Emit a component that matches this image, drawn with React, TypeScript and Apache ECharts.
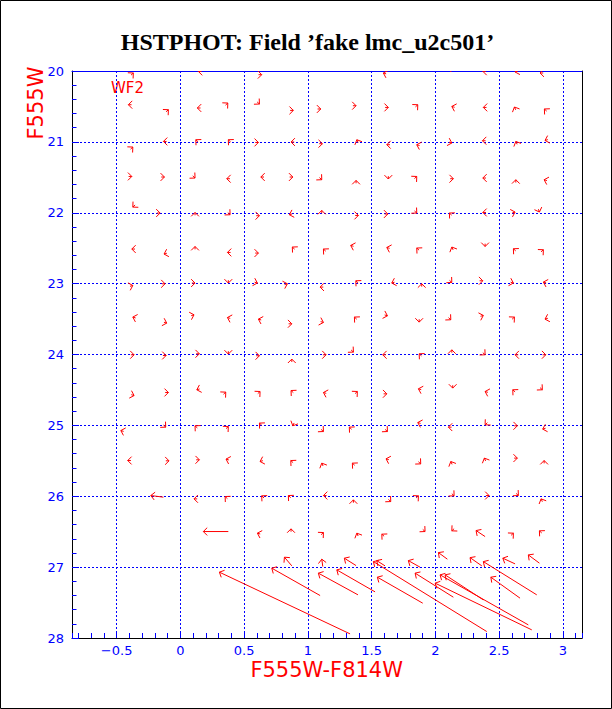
import React, { useEffect, useRef } from "react";
import * as echarts from "echarts";

// Each entry: [colour (measured), F555W (measured), dColour, dMag]  (arrow tail = measured - delta)
const row20: number[][] = [
  [-0.369, 20.028, 0.018, -0.03], [0.141, 20.006, -0.025, 0], [0.638, 20.052, 0.025, 0],
  [1.592, 20.028, -0.022, -0.012], [2.121, 20.006, 0, 0.04], [2.372, 20.004, -0.025, 0],
  [2.625, 20.014, -0.022, 0.012], [2.821, 20.028, -0.025, 0],
];
const row20h: number[][] = [
  [-0.408, 20.476, -0.025, 0], [-0.094, 20.546, 0.018, -0.03], [0.133, 20.522, -0.025, 0],
  [0.372, 20.452, 0.018, -0.03], [0.62, 20.466, 0.018, 0.03], [0.886, 20.556, 0.025, 0],
  [1.101, 20.536, 0.025, 0], [1.378, 20.49, 0.025, 0], [1.631, 20.514, 0.025, 0],
  [1.862, 20.476, 0.018, -0.03], [2.129, 20.5, -0.022, -0.012], [2.376, 20.514, -0.025, 0],
  [2.62, 20.508, -0.01, -0.04], [2.855, 20.536, -0.018, -0.03],
];
const row21: number[][] = [
  [-0.373, 21.073, 0.018, -0.03], [-0.133, 20.994, -0.025, 0], [0.121, 20.97, -0.018, -0.03],
  [0.376, 20.97, -0.018, -0.03], [0.612, 21.008, 0.025, 0], [0.868, 21.002, -0.025, 0],
  [1.114, 21.026, 0.025, 0], [1.384, 20.97, -0.01, -0.04], [1.619, 21.04, -0.025, 0],
  [1.854, 21.04, -0.022, -0.012], [2.129, 21.016, 0.022, 0.012], [2.369, 20.984, -0.025, 0],
  [2.631, 20.994, -0.01, -0.04], [2.86, 20.98, -0.022, 0.012],
];
const row21h: number[][] = [
  [-0.381, 21.488, 0.025, 0], [-0.125, 21.496, 0.025, 0], [0.115, 21.51, 0.018, 0.03],
  [0.364, 21.52, -0.025, 0], [0.631, 21.496, -0.025, 0], [0.882, 21.496, 0.025, 0],
  [1.109, 21.534, 0.018, 0.03], [1.378, 21.544, 0, -0.04], [1.631, 21.524, 0, 0.04],
  [1.854, 21.488, 0.018, -0.03], [2.141, 21.52, 0.025, 0], [2.372, 21.51, -0.025, 0],
  [2.631, 21.534, 0, -0.04], [2.853, 21.534, -0.022, -0.012],
];
const row22: number[][] = [
  [-0.373, 21.92, -0.018, 0.03], [-0.159, 22.004, 0.025, 0], [0.115, 21.996, 0, -0.04],
  [0.39, 22.028, 0.018, 0.03], [0.62, 22.042, 0.025, 0], [0.855, 22.028, -0.022, 0.012],
  [1.109, 21.967, 0, -0.04], [1.396, 22.038, 0.025, 0], [1.627, 22.018, 0.025, 0],
  [1.854, 22.004, 0.018, 0.03], [2.11, 22.004, -0.018, -0.03], [2.372, 21.996, -0.025, 0],
  [2.625, 21.99, 0.022, -0.012], [2.816, 21.99, 0.008, 0.04],
];
const row22h: number[][] = [
  [-0.381, 22.512, -0.025, 0], [-0.128, 22.583, -0.022, 0.012], [0.115, 22.476, 0, -0.04],
  [0.369, 22.56, -0.025, 0], [0.612, 22.569, 0.025, 0], [0.878, 22.484, -0.018, -0.03],
  [1.122, 22.512, -0.018, -0.03], [1.336, 22.461, -0.022, -0.012], [1.619, 22.49, -0.022, -0.012],
  [1.854, 22.498, -0.018, -0.03], [2.129, 22.484, -0.01, -0.04], [2.39, 22.476, 0, 0.04],
  [2.612, 22.508, -0.018, -0.03], [2.847, 22.522, 0.018, -0.03],
];
const row23: number[][] = [
  [-0.373, 23.026, 0.022, -0.012], [-0.12, 23.002, 0.025, 0], [0.115, 22.992, 0.025, 0],
  [0.376, 22.992, 0, 0.04], [0.604, 22.992, 0.022, 0.012], [0.839, 23.002, 0.022, -0.012],
  [1.096, 23.049, -0.025, 0], [1.376, 22.96, -0.018, -0.03], [1.658, 22.992, -0.022, 0.012],
  [1.893, 23.002, 0, -0.04], [2.129, 22.984, 0.018, 0.03], [2.372, 22.96, 0.025, 0],
  [2.612, 22.992, 0.022, 0.012], [2.847, 22.978, -0.022, -0.012],
];
const row23h: number[][] = [
  [-0.373, 23.472, -0.022, -0.012], [-0.107, 23.557, 0.022, 0.012], [0.107, 23.44, 0.022, -0.012],
  [0.369, 23.478, -0.022, -0.012], [0.612, 23.501, -0.022, -0.012], [0.874, 23.567, 0.025, 0],
  [1.122, 23.548, 0.022, 0.012], [1.365, 23.472, -0.018, -0.03], [1.624, 23.454, 0.022, 0.012],
  [1.873, 23.543, 0, 0.04], [2.121, 23.51, 0.018, 0.03], [2.376, 23.449, 0.022, -0.012],
  [2.62, 23.472, 0.018, -0.03], [2.86, 23.501, -0.022, 0.012],
];
const row24: number[][] = [
  [-0.363, 24.004, 0.025, 0], [-0.112, 24.014, 0.025, 0], [0.149, 23.99, 0.025, 0],
  [0.376, 23.994, 0, 0.04], [0.62, 24.018, 0.025, 0], [0.874, 24.065, 0, -0.04],
  [1.143, 24.004, 0.025, 0], [1.357, 23.966, 0.018, 0.03], [1.587, 24.004, -0.025, 0],
  [1.873, 23.99, -0.018, -0.03], [2.129, 23.934, 0, -0.04], [2.39, 24.004, 0.018, 0.03],
  [2.625, 24.004, -0.025, 0], [2.866, 24.004, 0.025, 0],
];
const row24h: number[][] = [
  [-0.363, 24.579, 0.022, 0.012], [-0.094, 24.536, 0.025, 0], [0.129, 24.498, -0.022, 0.012],
  [0.356, 24.531, 0.018, -0.03], [0.625, 24.522, 0.018, -0.03], [0.868, 24.508, -0.018, -0.03],
  [1.122, 24.536, -0.022, -0.012], [1.388, 24.522, 0.018, -0.03], [1.619, 24.555, 0.025, 0],
  [1.867, 24.484, -0.022, -0.012], [2.136, 24.474, 0, 0.04], [2.39, 24.522, -0.022, -0.012],
  [2.607, 24.498, -0.018, -0.03], [2.839, 24.498, 0.018, 0.03],
];
const row25: number[][] = [
  [-0.467, 25.073, -0.022, -0.012], [-0.115, 25.025, 0.018, 0.03], [0.115, 25.006, -0.018, -0.03],
  [0.376, 25.016, 0.018, -0.03], [0.62, 24.968, -0.018, -0.03], [0.882, 25.006, -0.01, 0.04],
  [1.122, 25.087, 0.018, 0.03], [1.325, 25.025, -0.018, -0.03], [1.624, 25.087, 0.018, 0.03],
  [1.862, 24.96, -0.022, -0.012], [2.102, 25.025, -0.025, 0], [2.39, 24.992, -0.018, 0.03],
  [2.643, 25.006, 0.025, 0], [2.842, 25.053, -0.022, 0.012],
];
const row25h: number[][] = [
  [-0.413, 25.496, -0.025, 0], [-0.089, 25.5, 0.025, 0], [0.149, 25.486, 0.025, 0],
  [0.358, 25.476, -0.022, -0.012], [0.625, 25.51, -0.022, 0.012], [0.866, 25.496, -0.018, -0.03],
  [1.109, 25.533, -0.01, -0.04], [1.349, 25.533, -0.018, -0.03], [1.613, 25.472, -0.022, -0.012],
  [1.885, 25.543, 0.018, 0.03], [2.121, 25.51, -0.01, -0.04], [2.384, 25.462, -0.01, -0.04],
  [2.643, 25.462, 0.025, 0], [2.853, 25.496, 0, -0.04],
];
const row26: number[][] = [
  [-0.232, 25.99, -0.099, -0.023], [0.107, 26.037, -0.025, 0], [0.351, 26.004, -0.018, -0.03],
  [0.638, 25.994, -0.018, -0.03], [0.847, 25.99, -0.018, -0.03], [1.122, 25.99, -0.025, 0],
  [1.357, 26.051, 0, -0.04], [1.65, 26.075, 0.018, 0.03], [1.867, 25.994, 0.018, -0.03],
  [2.147, 25.994, 0.018, 0.03], [2.421, 25.99, 0.025, 0], [2.651, 25.99, 0.018, 0.03],
  [2.829, 26.037, -0.01, -0.04],
];
const row26h: number[][] = [
  [0.18, 26.498, -0.196, 0], [0.604, 26.521, -0.022, -0.012], [0.868, 26.46, 0, -0.04],
  [1.122, 26.512, 0.018, -0.03], [1.384, 26.521, -0.01, -0.04], [1.58, 26.535, -0.018, -0.03],
  [1.919, 26.498, 0.018, 0.03], [2.129, 26.488, -0.018, 0.03], [2.319, 26.484, -0.071, -0.085],
  [2.612, 26.521, 0.018, -0.03], [2.816, 26.488, -0.018, -0.03],
];
const row27: number[][] = [
  [0.816, 26.86, -0.058, -0.122], [1.109, 26.888, -0.008, -0.104], [1.286, 26.874, -0.092, -0.104],
  [1.54, 26.908, -0.065, -0.074], [1.788, 26.908, -0.092, -0.093], [2.024, 26.795, -0.07, -0.093],
  [2.272, 26.866, -0.092, -0.116], [2.529, 26.874, -0.096, -0.08], [2.729, 26.828, -0.087, -0.116],
];
const faint: number[][] = [
  [0.306, 27.071, -1.025, -0.871], [0.717, 27.015, -0.379, -0.386], [1.082, 27.085, -0.311, -0.306],
  [1.227, 27.039, -0.3, -0.31], [1.514, 26.922, -0.889, -0.987], [1.545, 27.142, -0.356, -0.367],
  [1.841, 27.085, -0.3, -0.339], [1.998, 27.226, -0.758, -0.659], [2.037, 27.109, -0.692, -0.706],
  [2.076, 27.109, -0.3, -0.353], [2.435, 27.142, -0.229, -0.296], [2.376, 26.922, -0.419, -0.469],
];

const X_MIN = -0.85;
const X_MAX = 3.15;
const Y_MIN = 20;
const Y_MAX = 28;

const BLUE = "#0000ff";
const RED = "#ff0000";
const SANS = "DejaVu Sans";

export default function App() {
  const ref = useRef<HTMLDivElement>(null);
  useEffect(() => {
    if (!ref.current) return;
    const chart = echarts.init(ref.current, undefined, { renderer: "svg" });
    const data = [
      ...row20, ...row20h, ...row21, ...row21h, ...row22, ...row22h, ...row23, ...row23h,
      ...row24, ...row24h, ...row25, ...row25h, ...row26, ...row26h, ...row27, ...faint,
    ];
    const grid = { left: 72, top: 71, width: 510, height: 567 };
    const gridLine = { color: BLUE, width: 1, type: [2, 2] as any };
    chart.setOption({
      animation: false,
      backgroundColor: "#ffffff",
      grid,
      xAxis: [
        {
          type: "value", min: X_MIN, max: X_MAX, splitNumber: 8, position: "bottom",
          axisLine: { show: true, onZero: false, lineStyle: { color: "#000", width: 1 } },
          axisTick: { show: false },
          axisLabel: {
            color: BLUE, fontFamily: SANS, fontSize: 13, lineHeight: 13, margin: 6,
            showMinLabel: false, showMaxLabel: false,
            formatter: (v: number) => (v < 0 ? "\u2212" + String(-v) : String(v)),
          },
          splitLine: { show: true, showMinLine: false, showMaxLine: false, lineStyle: gridLine },
        },
        {
          type: "value", min: X_MIN, max: X_MAX, splitNumber: 40, position: "bottom",
          axisLine: { show: false, onZero: false },
          axisTick: { show: true, inside: true, length: 5, lineStyle: { color: BLUE, width: 1 } },
          axisLabel: { show: false }, splitLine: { show: false },
        },
        {
          type: "value", min: X_MIN, max: X_MAX, position: "top",
          axisLine: { show: true, onZero: false, lineStyle: { color: BLUE, width: 1 } },
          axisTick: { show: false }, axisLabel: { show: false }, splitLine: { show: false },
        },
      ],
      yAxis: [
        {
          type: "value", inverse: true, min: Y_MIN, max: Y_MAX, interval: 1, position: "left",
          axisLine: { show: true, onZero: false, lineStyle: { color: "#000", width: 1 } },
          axisTick: { show: true, inside: true, length: 7, lineStyle: { color: BLUE, width: 1 } },
          minorTick: { show: true, splitNumber: 5, length: 4.5, lineStyle: { color: BLUE, width: 1 } },
          axisLabel: { color: BLUE, fontFamily: SANS, fontSize: 13, margin: 8 },
          splitLine: { show: true, showMinLine: false, showMaxLine: false, lineStyle: gridLine },
        },
        {
          type: "value", inverse: true, min: Y_MIN, max: Y_MAX, position: "right",
          axisLine: { show: true, onZero: false, lineStyle: { color: "#000", width: 1 } },
          axisTick: { show: false }, axisLabel: { show: false }, splitLine: { show: false },
        },
      ],
      graphic: [
        { type: "rect", shape: { x: 0.5, y: 0.5, width: 611, height: 708 }, style: { stroke: "#000", fill: "none", lineWidth: 1 }, silent: true },
        {
          type: "text", x: 307.5, y: 41.5,
          style: { text: "HSTPHOT: Field \u2019fake lmc_u2c501\u2019", fill: "#000", font: "bold 24px 'Liberation Serif'", align: "center", verticalAlign: "middle" },
        },
        {
          type: "text", x: 36, y: 103, rotation: Math.PI / 2,
          style: { text: "F555W", fill: RED, font: `21px '${SANS}'`, align: "center", verticalAlign: "middle" },
        },
        {
          type: "text", x: 326.7, y: 670,
          style: { text: "F555W-F814W", fill: RED, font: `21px '${SANS}'`, lineHeight: 18, align: "center", verticalAlign: "middle" },
        },
        {
          type: "text", x: 111, y: 88,
          style: { text: "WF2", fill: RED, font: `15px '${SANS}'`, align: "left", verticalAlign: "middle" },
        },
      ],
      series: [
        {
          type: "custom",
          coordinateSystem: "cartesian2d",
          xAxisIndex: 0, yAxisIndex: 0,
          clip: true,
          data,
          renderItem: (_params: any, api: any) => {
            const x = api.value(0), y = api.value(1), dx = api.value(2), dy = api.value(3);
            const h = api.coord([x, y]);
            const t = api.coord([x - dx, y - dy]);
            const ang = Math.atan2(h[1] - t[1], h[0] - t[0]);
            const L = 5.5, a = Math.PI / 4;
            const b1 = [h[0] - L * Math.cos(ang - a), h[1] - L * Math.sin(ang - a)];
            const b2 = [h[0] - L * Math.cos(ang + a), h[1] - L * Math.sin(ang + a)];
            return {
              type: "group",
              children: [
                { type: "line", shape: { x1: t[0], y1: t[1], x2: h[0], y2: h[1] }, style: { stroke: RED, lineWidth: 1 } },
                { type: "polyline", shape: { points: [b1, h, b2] }, style: { stroke: RED, fill: "none", lineWidth: 1 } },
              ],
            };
          },
        },
      ],
    });
    return () => chart.dispose();
  }, []);
  return (
    <div
      ref={ref}
      style={{ position: "absolute", left: 0, top: 0, width: 612, height: 709, background: "#fff" }}
    />
  );
}
